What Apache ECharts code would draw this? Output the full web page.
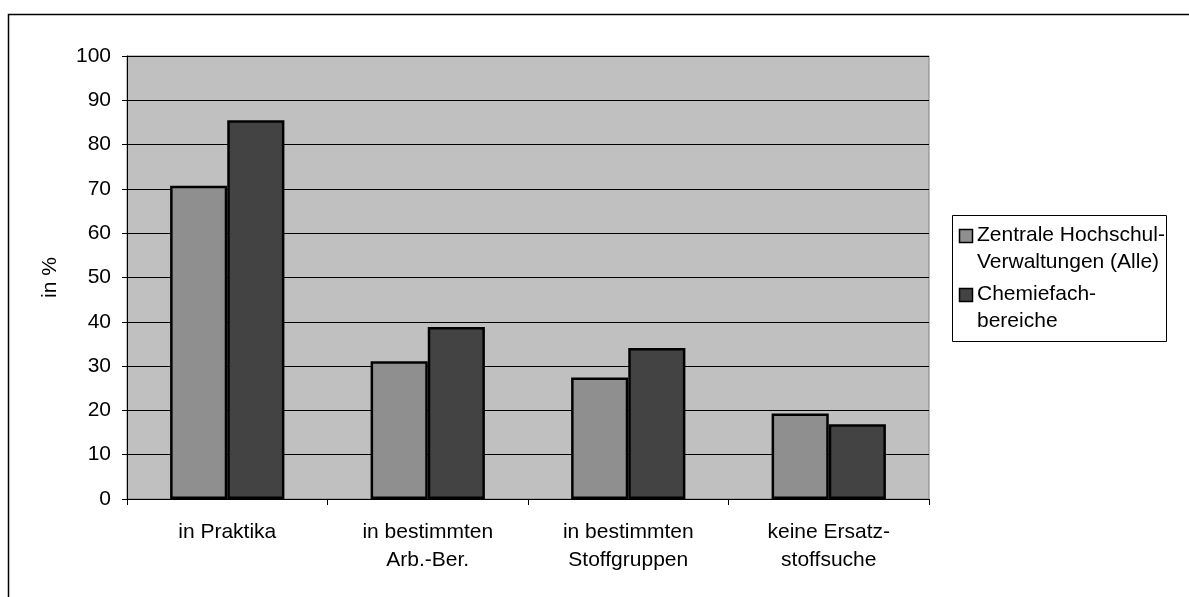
<!DOCTYPE html>
<html>
<head>
<meta charset="utf-8">
<script src="https://cdn.jsdelivr.net/npm/echarts@6/dist/echarts.min.js"></script>
<style>
  html, body { margin: 0; padding: 0; background: #fff; }
  #chart { width: 1189px; height: 597px; }
</style>
</head>
<body>
<div id="chart"></div>
<script>
// Kategorien der Ersatzstoffsuche
const categories = [
  'in Praktika',
  'in bestimmten\nArb.-Ber.',
  'in bestimmten\nStoffgruppen',
  'keine Ersatz-\nstoffsuche'
];
// Anteile in Prozent
const zentraleVerwaltungen = [70.7, 31.1, 27.4, 19.3];
const chemiefachbereiche = [85.5, 38.8, 34.1, 16.9];
const seriesNames = ['Zentrale Hochschul-\nVerwaltungen (Alle)', 'Chemiefach-\nbereiche'];
const seriesColors = ['#8f8f8f', '#434343'];
const yTicks = { min: 0, max: 100, interval: 10 };

const FONT = '"Liberation Sans", Arial, sans-serif';

// Legende als Kasten mit zweizeiligen Einträgen, Symbol an der ersten Zeile
function legendGraphic() {
  const box = { x: 952, y: 215, w: 214, h: 126 };
  const items = [];
  items.push({
    type: 'rect',
    shape: { x: box.x + 0.5, y: box.y + 0.5, width: box.w, height: box.h },
    style: { fill: '#fff', stroke: '#000', lineWidth: 1 },
    silent: true
  });
  const rowTop = [229, 288];
  seriesNames.forEach((name, i) => {
    items.push({
      type: 'rect',
      shape: { x: box.x + 7.5, y: rowTop[i] + 0.5, width: 13, height: 13 },
      style: { fill: seriesColors[i], stroke: '#000', lineWidth: 1.5 },
      silent: true
    });
    items.push({
      type: 'text',
      x: box.x + 25,
      y: rowTop[i] + 7 - 14,
      style: {
        text: name,
        font: '21px ' + FONT,
        lineHeight: 27,
        fill: '#000',
        verticalAlign: 'top'
      },
      silent: true
    });
  });
  return items;
}

const chart = echarts.init(document.getElementById('chart'), null, { renderer: 'canvas' });

chart.setOption({
  backgroundColor: '#ffffff',
  animation: false,
  textStyle: { fontFamily: FONT, color: '#000' },
  graphic: [
    {
      type: 'rect',
      shape: { x: 8.5, y: 14.5, width: 1300, height: 700 },
      style: { fill: 'none', stroke: '#000', lineWidth: 1.5 },
      silent: true,
      z: 0
    },
    ...legendGraphic()
  ],
  grid: {
    left: 127,
    top: 56,
    right: 260,
    bottom: 98,
    show: true,
    backgroundColor: '#c0c0c0',
    borderColor: '#808080',
    borderWidth: 1
  },
  xAxis: {
    type: 'category',
    data: categories,
    axisLine: { lineStyle: { color: '#000', width: 1 } },
    axisTick: { show: true, length: 6, lineStyle: { color: '#000' } },
    axisLabel: {
      fontFamily: FONT,
      fontSize: 21,
      lineHeight: 28,
      color: '#000',
      margin: 19
    }
  },
  yAxis: {
    type: 'value',
    min: yTicks.min,
    max: yTicks.max,
    interval: yTicks.interval,
    name: 'in %',
    nameLocation: 'middle',
    nameGap: 66,
    nameRotate: 90,
    nameTextStyle: { fontFamily: FONT, fontSize: 21, color: '#000' },
    axisLine: { show: true, lineStyle: { color: '#000', width: 1 } },
    axisTick: { show: true, length: 5, lineStyle: { color: '#000' } },
    axisLabel: { fontFamily: FONT, fontSize: 21, color: '#000', margin: 16 },
    splitLine: { show: true, lineStyle: { color: '#000', width: 1 } }
  },
  series: [
    {
      name: seriesNames[0],
      type: 'bar',
      data: zentraleVerwaltungen,
      barGap: '0%',
      barCategoryGap: '43%',
      itemStyle: { color: seriesColors[0], borderColor: '#000', borderWidth: 2.5 }
    },
    {
      name: seriesNames[1],
      type: 'bar',
      data: chemiefachbereiche,
      barGap: '0%',
      barCategoryGap: '43%',
      itemStyle: { color: seriesColors[1], borderColor: '#000', borderWidth: 2.5 }
    }
  ]
});
</script>
</body>
</html>
